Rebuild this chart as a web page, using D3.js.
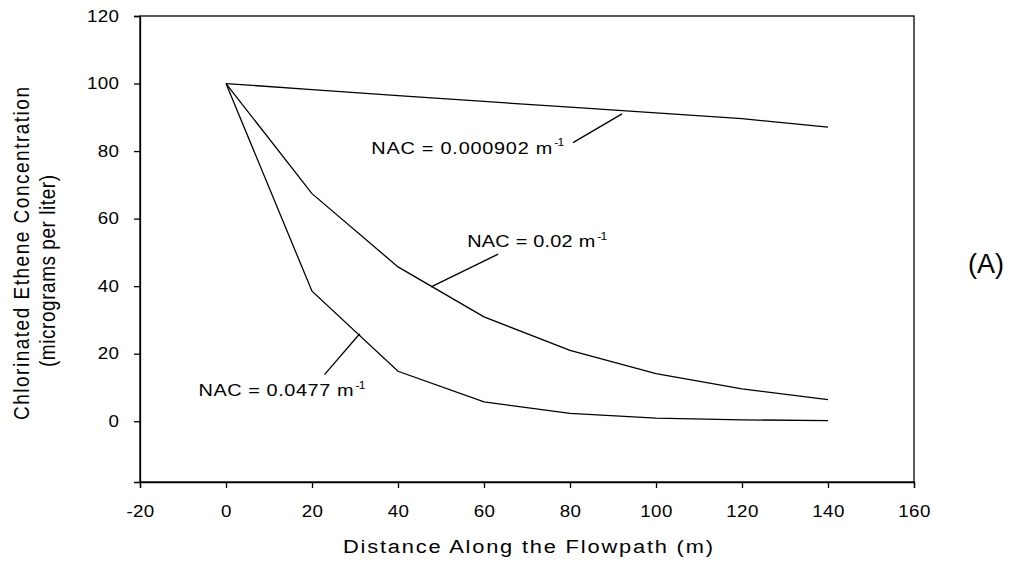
<!DOCTYPE html>
<html>
<head>
<meta charset="utf-8">
<script src="https://cdn.jsdelivr.net/npm/d3@7"></script>
<style>
  html, body { margin: 0; padding: 0; background: #fff; }
  svg { display: block; font-family: "Liberation Sans", Arial, sans-serif; }
</style>
</head>
<body>
<svg id="chart" width="1016" height="565"></svg>
<script>
// ---- data ----
const distance = [0, 20, 40, 60, 80, 100, 120, 140];
const nac000902 = [100, 98.2, 96.4, 94.7, 93.0, 91.3, 89.6, 87.1];
const nac002 = [100, 67.4, 45.7, 30.9, 21.0, 14.1, 9.6, 6.4];
const nac0477 = [100, 38.5, 14.8, 5.7, 2.3, 0.9, 0.4, 0.2];
const xTicks = [-20, 0, 20, 40, 60, 80, 100, 120, 140, 160];
const yTicks = [0, 20, 40, 60, 80, 100, 120];
const seriesLabels = ["NAC = 0.000902 m", "NAC = 0.02 m", "NAC = 0.0477 m"];

const svg = d3.select("#chart");
const L = 140, R = 914, T = 16, B = 482;
const SX = 1.15; // horizontal stretch of the reference's type
const x = d3.scaleLinear().domain([-20, 160]).range([L, R]);
const y = d3.scaleLinear().domain([-18, 120]).range([B, T]);

// frame
svg.append("rect").attr("x", L).attr("y", T).attr("width", R - L).attr("height", B - T)
  .attr("fill", "none").attr("stroke", "#000").attr("stroke-width", 1.3);

// axes
const fmt = d => String(d);
const xAxis = d3.axisBottom(x).tickValues(xTicks).tickSize(6).tickPadding(17).tickFormat(fmt);
const gx = svg.append("g").attr("transform", `translate(0,${B})`).call(xAxis);
const yAxis = d3.axisLeft(y).tickValues(yTicks).tickSize(6).tickPadding(15).tickFormat(fmt);
const gy = svg.append("g").attr("transform", `translate(${L},0)`).call(yAxis);
[gx, gy].forEach(g => {
  g.select(".domain").attr("stroke", "#000").attr("stroke-width", 1.3);
  g.selectAll(".tick line").attr("stroke", "#000").attr("stroke-width", 1.3);
  g.selectAll(".tick text").attr("fill", "#000").style("font-size", "16.3px")
    .style("font-family", "'Liberation Sans', Arial, sans-serif")
    .attr("transform", `scale(${SX},1)`).style("letter-spacing", "0.3px");
});
gy.selectAll(".tick text").attr("x", -20.7 / SX);

// lines
const line = d3.line().x((d, i) => x(distance[i])).y(d => y(d));
[nac000902, nac002, nac0477].forEach(s => {
  svg.append("path").datum(s).attr("d", line)
    .attr("fill", "none").attr("stroke", "#000").attr("stroke-width", 1.3);
});

// stretched text helper
function stext(px, py, str, size, width, extra, sx) {
  const s = sx || SX;
  const t = svg.append("text")
    .attr("transform", `translate(${px},${py}) scale(${s},1)` + (extra || ""))
    .attr("fill", "#000").style("font-size", size + "px").text(str);
  if (width) t.attr("textLength", width).attr("lengthAdjust", "spacing");
  return t;
}

// annotations (data coordinates)
const ann = [
  { label: seriesLabels[0], w: 181, tx: 33.8, ty: 79.2, l1: [80.7, 82.5], l2: [92.1, 91.0] },
  { label: seriesLabels[1], w: 128, tx: 56.1, ty: 51.5, l1: [63.3, 49.5], l2: [47.7, 39.8] },
  { label: seriesLabels[2], w: 155, tx: -6.4, ty: 7.4, l1: [22.9, 13.8], l2: [31.1, 25.9] }
];
ann.forEach(a => {
  const px = x(a.tx), py = y(a.ty);
  stext(px, py, a.label, 17.3, a.w / SX);
  stext(px + a.w + 2, py - 7.5, "-1", 10.5, 10 / SX);
  svg.append("line").attr("x1", x(a.l1[0])).attr("y1", y(a.l1[1]))
    .attr("x2", x(a.l2[0])).attr("y2", y(a.l2[1]))
    .attr("stroke", "#000").attr("stroke-width", 1.3);
});

// axis titles
stext(343, 553, "Distance Along the Flowpath (m)", 19, 370 / SX);
stext(28.5, 420, "Chlorinated Ethene Concentration", 19, 333, " rotate(-90)");
stext(55, 367, "(micrograms per liter)", 19, 192, " rotate(-90)");

// panel label
svg.append("text").attr("x", 968).attr("y", 273).attr("fill", "#000")
  .style("font-size", "27px").text("(A)");
</script>
</body>
</html>
